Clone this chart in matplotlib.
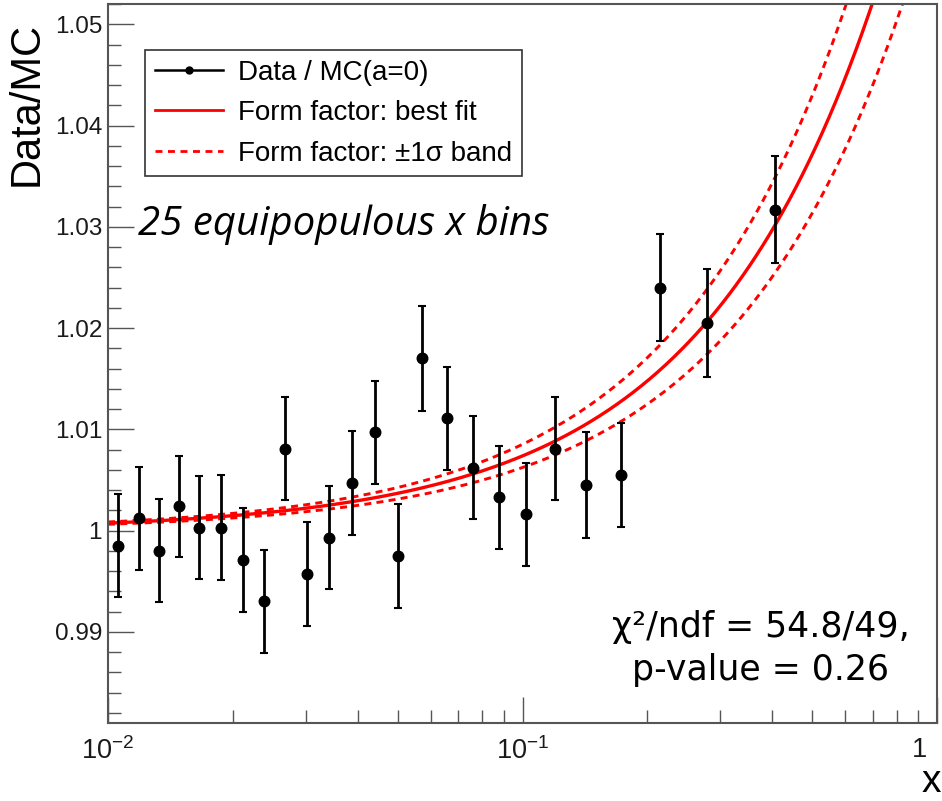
import numpy as np
import matplotlib
matplotlib.use("Agg")
import matplotlib.pyplot as plt
from matplotlib.lines import Line2D
from matplotlib.ticker import FixedLocator, FixedFormatter, MultipleLocator

plt.rcParams["font.family"] = ["Liberation Sans", "DejaVu Sans"]
plt.rcParams["mathtext.fontset"] = "custom"
plt.rcParams["mathtext.rm"] = "Liberation Sans"
plt.rcParams["mathtext.it"] = "Liberation Sans:italic"

# Bin centres (x) and measured Data/MC ratio with statistical errors
x_bins = [0.01059, 0.01188, 0.01327, 0.01483, 0.01660, 0.01875, 0.02112, 0.02379,
          0.02680, 0.03029, 0.03408, 0.03886, 0.04405, 0.05012, 0.05731, 0.06585,
          0.07590, 0.08753, 0.1022, 0.1199, 0.1426, 0.1732, 0.2142, 0.2780, 0.4064]
ratio = [0.9985, 1.0012, 0.9980, 1.0024, 1.0003, 1.0003, 0.9971, 0.9930,
         1.0081, 0.9957, 0.9993, 1.0047, 1.0097, 0.9975, 1.0170, 1.0111,
         1.0062, 1.0033, 1.0016, 1.0081, 1.0045, 1.0055, 1.0240, 1.0205, 1.0317]
ratio_err = [0.0051, 0.0051, 0.0051, 0.0050, 0.0051, 0.0052, 0.0051, 0.0051,
             0.0051, 0.0051, 0.0051, 0.0051, 0.0051, 0.0051, 0.0052, 0.0051,
             0.0051, 0.0051, 0.0051, 0.0051, 0.0052, 0.0051, 0.0053, 0.0053, 0.0053]

# Fitted form factor slope and its uncertainty
fit_slope = 0.0368
fit_slope_err = 0.0057

x_tick_values = [0.01, 0.1, 1.0]
x_tick_labels = [r"$10^{-2}$", r"$10^{-1}$", ""]
x_end_label = "1"
y_tick_values = [0.99, 1.00, 1.01, 1.02, 1.03, 1.04, 1.05]
y_tick_labels = ["0.99", "1", "1.01", "1.02", "1.03", "1.04", "1.05"]


def form_factor_sq(x, a):
    return (1.0 + a * x) ** 2


fig = plt.figure(figsize=(9.42, 8.01), dpi=100)
W, H = 942.0, 801.0
ax = fig.add_axes([108 / W, 1 - 723 / H, (937 - 108) / W, (723 - 4) / H])

xs = np.geomspace(0.01, 1.0, 500)
red = "#ff0000"
ax.plot(xs, form_factor_sq(xs, fit_slope), color=red, lw=2.4, zorder=2)
dash = (0, (2.4, 1.8))
ax.plot(xs, form_factor_sq(xs, fit_slope + fit_slope_err), color=red, lw=2.1,
        ls=dash, zorder=2)
ax.plot(xs, form_factor_sq(xs, fit_slope - fit_slope_err), color=red, lw=2.1,
        ls=dash, zorder=2)

ax.errorbar(x_bins, ratio, yerr=ratio_err, fmt="o", color="black", ms=7.6,
            elinewidth=2.0, capsize=3.0, capthick=1.5, zorder=3)

ax.set_xscale("log")
ax.set_xlim(0.01, 1.0)
ax.set_ylim(0.9810, 1.0520)

ax.xaxis.set_major_locator(FixedLocator(x_tick_values))
ax.xaxis.set_major_formatter(FixedFormatter(x_tick_labels))
ax.xaxis.set_minor_locator(matplotlib.ticker.LogLocator(base=10, subs=np.arange(2, 10)))
ax.xaxis.set_minor_formatter(matplotlib.ticker.NullFormatter())
ax.yaxis.set_major_locator(FixedLocator(y_tick_values))
ax.yaxis.set_major_formatter(FixedFormatter(y_tick_labels))
ax.yaxis.set_minor_locator(MultipleLocator(0.002))

axis_col = "#555555"
ax.tick_params(which="both", direction="in", top=False, right=False,
               color=axis_col, width=1.0, labelsize=17.5, labelcolor="#1a1a1a")
ax.tick_params(which="major", length=19)
ax.tick_params(which="minor", length=9.5)
ax.tick_params(axis="y", pad=4.3)
ax.tick_params(axis="x", pad=10, labelsize=19.5)
for s in ax.spines.values():
    s.set_color(axis_col)
    s.set_linewidth(1.5)

# label of the last decade, kept inside the canvas and clear of the axis title
fig.text(927 / W, 1 - 737 / H, x_end_label, ha="right", va="top",
         fontsize=19.5, color="#1a1a1a")

fig.text(27 / W, 1 - 22 / H, "Data/MC", rotation=90, ha="center", va="top",
         fontsize=30)
fig.text(941 / W, 1 - 800 / H, "x", ha="right", va="bottom", fontsize=28)

handles = [
    Line2D([], [], color="black", lw=1.8, marker="o", ms=5),
    Line2D([], [], color=red, lw=2.0),
    Line2D([], [], color=red, lw=2.0, ls=(0, (2.5, 2.0))),
]
labels = ["Data / MC(a=0)", "Form factor: best fit", "Form factor: \u00b11\u03c3 band"]
leg = ax.legend(handles, labels, loc="upper left",
                bbox_to_anchor=(145 / W, 1 - 50 / H), bbox_transform=fig.transFigure,
                fontsize=20, frameon=True, fancybox=False, borderaxespad=0,
                handlelength=2.45, handletextpad=0.55, borderpad=0.35,
                labelspacing=0.52)
leg.get_frame().set_edgecolor("#333333")
leg.get_frame().set_linewidth(1.2)
leg.get_frame().set_alpha(1.0)

fig.text(138 / W, 1 - 235 / H, "25 equipopulous x bins", ha="left", va="baseline",
         fontsize=29, style="italic", family=["Open Sans", "DejaVu Sans"])

fig.text(761 / W, 1 - 637 / H, "\u03c7\u00b2/ndf = 54.8/49,", ha="center",
         va="baseline", fontsize=25, family=["DejaVu Sans"])
fig.text(761 / W, 1 - 680 / H, "p-value = 0.26", ha="center", va="baseline",
         fontsize=25, family=["DejaVu Sans"])

fig.savefig("out.png", dpi=100)
